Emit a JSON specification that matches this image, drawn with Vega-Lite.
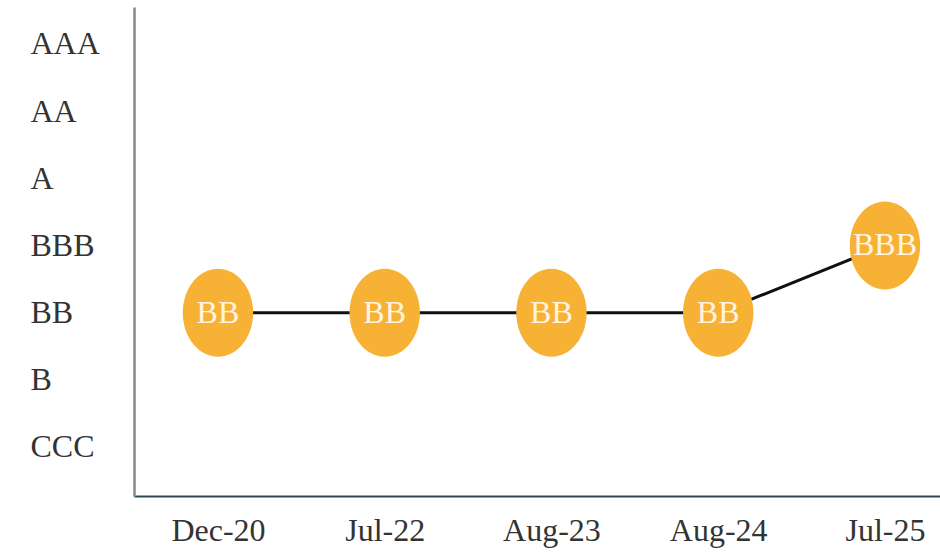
{
  "$schema": "https://vega.github.io/schema/vega-lite/v6.json",
  "width": 806,
  "height": 489,
  "autosize": "none",
  "padding": {"left": 134, "top": 7, "right": 0, "bottom": 58},
  "background": "white",
  "config": {"view": {"stroke": null}, "font": "Liberation Serif"},
  "data": {
    "values": [
      {"date": "Dec-20", "rating": "BB"},
      {"date": "Jul-22", "rating": "BB"},
      {"date": "Aug-23", "rating": "BB"},
      {"date": "Aug-24", "rating": "BB"},
      {"date": "Jul-25", "rating": "BBB"}
    ]
  },
  "encoding": {
    "x": {
      "field": "date",
      "type": "ordinal",
      "sort": null,
      "scale": {"type": "point", "padding": 0.4168, "align": 0.604},
      "axis": {
        "title": null,
        "labelAngle": 0,
        "ticks": false,
        "tickSize": 0,
        "domainColor": "#2E4756",
        "domainWidth": 2,
        "labelFont": "Liberation Serif",
        "labelFontSize": 32,
        "labelColor": "#333333",
        "labelPadding": 19,
        "grid": false
      }
    },
    "y": {
      "field": "rating",
      "type": "ordinal",
      "scale": {
        "type": "point",
        "domain": ["AAA", "AA", "A", "BBB", "BB", "B", "CCC"],
        "padding": 0.64,
        "align": 0.43
      },
      "axis": {
        "title": null,
        "ticks": false,
        "tickSize": 0,
        "domainColor": "#888888",
        "domainWidth": 2.5,
        "labelAlign": "left",
        "labelBaseline": "middle",
        "labelPadding": 104,
        "labelLimit": 200,
        "labelFont": "Liberation Serif",
        "labelFontSize": 32,
        "labelColor": "#333333",
        "grid": false
      }
    }
  },
  "layer": [
    {"mark": {"type": "line", "color": "#111111", "strokeWidth": 3}},
    {
      "mark": {
        "type": "point",
        "shape": "M-0.8,0A0.8,1 0 1,1 0.8,0A0.8,1 0 1,1 -0.8,0Z",
        "filled": true,
        "color": "#F7B236",
        "opacity": 1,
        "size": 7744
      }
    },
    {
      "mark": {
        "type": "text",
        "font": "Liberation Serif",
        "fontSize": 32,
        "color": "#FFF4E2",
        "baseline": "middle",
        "align": "center"
      },
      "encoding": {"text": {"field": "rating"}}
    }
  ]
}
